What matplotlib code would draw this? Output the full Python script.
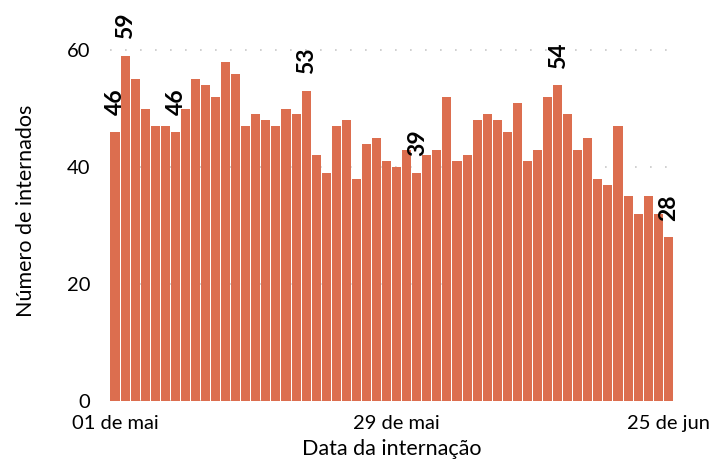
import numpy as np
import matplotlib
matplotlib.use("Agg")
import matplotlib.pyplot as plt

plt.rcParams['font.family'] = ['Lato', 'DejaVu Sans']

# daily admissions, 01 May .. 25 Jun
dates = [f"{d:02d}/05" for d in range(1, 32)] + [f"{d:02d}/06" for d in range(1, 26)]
internados = [46, 59, 55, 50, 47, 47, 46, 50, 55, 54,
              52, 58, 56, 47, 49, 48, 47, 50, 49, 53,
              42, 39, 47, 48, 38, 44, 45, 41, 40, 43,
              39, 42, 43, 52, 41, 42, 48, 49, 48, 46,
              51, 41, 43, 52, 54, 49, 43, 45, 38, 37,
              47, 35, 32, 35, 32, 28]
labeled_idx = [0, 1, 6, 19, 30, 44, 55]
tick_idx = [0, 28, 55]
tick_labels = ["01 de mai", "29 de mai", "25 de jun"]
y_ticks = [0, 20, 40, 60]

bar_color = "#dc6e4f"

fig = plt.figure(figsize=(7.14, 4.65), dpi=100)
ax = fig.add_axes([0.154, 0.1376, 0.789, 0.8174])

x = np.arange(len(internados))
ax.bar(x, internados, width=0.9, color=bar_color, linewidth=0, zorder=2)

for i in labeled_idx:
    ax.annotate(str(internados[i]), (x[i], internados[i]),
                xytext=(0.5, 12), textcoords='offset points',
                rotation=90, ha='center', va='bottom',
                fontsize=16.5, fontweight='bold', color='black')

ax.set_xlim(-0.5, len(internados) - 0.5)
ax.set_ylim(0, 65)
ax.set_yticks(y_ticks)
ax.set_xticks(tick_idx)
ax.set_xticklabels(tick_labels)
ax.tick_params(axis='both', length=0, labelsize=14.5, colors='black')
ax.tick_params(axis='y', pad=14)
ax.tick_params(axis='x', pad=10)

ax.grid(axis='y', color='#c8c8c8', linestyle=(0, (1, 8)), linewidth=1.2, zorder=0)
ax.set_axisbelow(True)
for s in ax.spines.values():
    s.set_visible(False)

ax.set_xlabel("Data da internação", fontsize=15.5, labelpad=5)
ax.set_ylabel("Número de internados", fontsize=15.5, labelpad=22)

fig.savefig("out.png", dpi=100)
plt.close(fig)
